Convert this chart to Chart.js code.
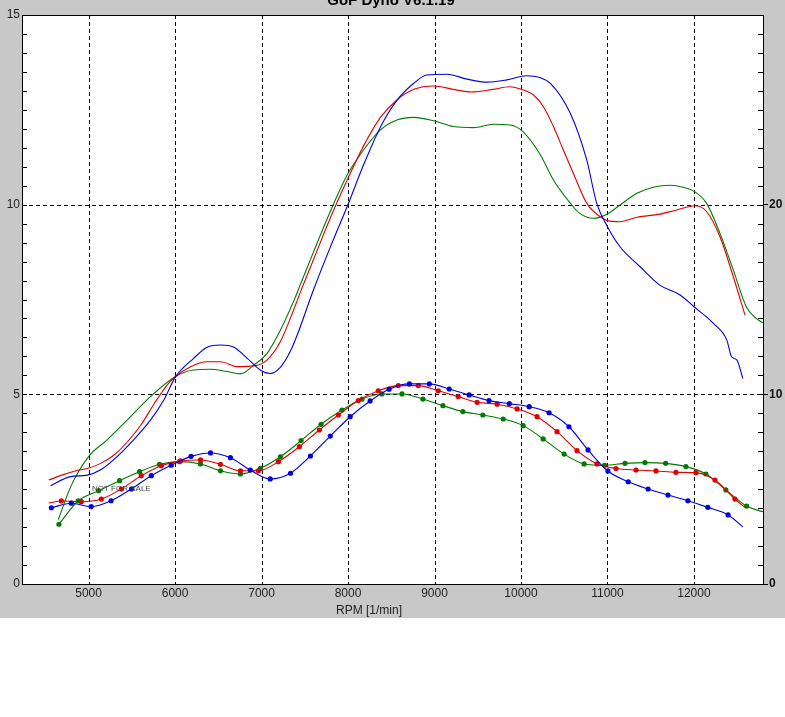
<!DOCTYPE html>
<html>
<head>
<meta charset="utf-8">
<script src="https://cdn.jsdelivr.net/npm/chart.js@4.4.1/dist/chart.umd.min.js"></script>
<style>
html, body { margin: 0; padding: 0; background: #fff; }
#wrap { width: 785px; height: 618px; background: #c8c8c8; }
</style>
</head>
<body>
<div id="wrap"><canvas id="dyno" width="785" height="618"></canvas></div>
<script>
// tick labels
var rpmTicks = [5000, 6000, 7000, 8000, 9000, 10000, 11000, 12000];
var leftTicks = [0, 5, 10, 15];
var rightTicks = [0, 10, 20];
var leftGrid = [5, 10];

// upper curves (left axis)
var blueUpRpm = [4560, 4790, 4985, 5140, 5330, 5520, 5715, 5870, 6005, 6215, 6370, 6525, 6680, 6835, 6985, 7100, 7220, 7330, 7410, 7600, 7795, 7990, 8180, 8375, 8565, 8760, 8910, 9145, 9375, 9605, 9835, 10065, 10220, 10340, 10570, 10760, 10875, 11000, 11145, 11375, 11605, 11840, 12000, 12225, 12380, 12435, 12495, 12565];
var blueUp = [2.59, 2.83, 2.87, 3.01, 3.36, 3.80, 4.32, 4.85, 5.46, 5.95, 6.24, 6.30, 6.24, 5.95, 5.64, 5.55, 5.72, 6.12, 6.55, 7.75, 8.88, 9.95, 11.05, 12.05, 12.75, 13.20, 13.42, 13.44, 13.31, 13.23, 13.29, 13.40, 13.35, 13.20, 12.41, 11.18, 10.04, 9.42, 8.89, 8.37, 7.88, 7.62, 7.31, 6.87, 6.43, 5.99, 5.91, 5.42];

var redUpRpm = [4540, 4690, 4845, 4995, 5140, 5295, 5450, 5605, 5760, 5910, 6005, 6180, 6370, 6525, 6720, 6910, 7065, 7220, 7375, 7450, 7600, 7795, 7990, 8180, 8375, 8565, 8760, 8990, 9220, 9430, 9680, 9870, 9990, 10145, 10260, 10375, 10490, 10605, 10760, 10915, 11000, 11145, 11340, 11605, 11800, 12010, 12145, 12300, 12455, 12590];
var redUp = [2.74, 2.87, 2.98, 3.05, 3.18, 3.40, 3.75, 4.19, 4.76, 5.25, 5.47, 5.73, 5.86, 5.86, 5.73, 5.75, 5.91, 6.40, 7.25, 7.70, 8.55, 9.65, 10.65, 11.55, 12.30, 12.76, 13.04, 13.13, 13.04, 12.97, 13.04, 13.11, 13.05, 12.89, 12.58, 12.06, 11.44, 10.83, 10.04, 9.68, 9.58, 9.55, 9.67, 9.75, 9.86, 9.97, 9.82, 9.16, 8.10, 7.09];

var greenUpRpm = [4650, 4800, 5000, 5215, 5445, 5715, 6005, 6215, 6410, 6600, 6755, 6910, 7065, 7220, 7370, 7450, 7600, 7795, 7990, 8180, 8375, 8565, 8760, 8990, 9220, 9450, 9680, 9875, 10025, 10220, 10375, 10570, 10680, 10835, 10995, 11145, 11340, 11530, 11720, 11875, 12010, 12145, 12300, 12455, 12605, 12720, 12810];
var greenUp = [1.70, 2.60, 3.36, 3.80, 4.32, 4.94, 5.47, 5.64, 5.66, 5.60, 5.54, 5.77, 6.08, 6.70, 7.45, 7.90, 8.75, 9.82, 10.78, 11.44, 11.97, 12.23, 12.30, 12.21, 12.06, 12.03, 12.12, 12.10, 11.92, 11.33, 10.65, 10.04, 9.77, 9.64, 9.75, 9.99, 10.30, 10.46, 10.51, 10.46, 10.34, 10.04, 9.25, 8.28, 7.31, 7.00, 6.87];

// lower curves with markers (right axis)
var blueLowRpm = [4570, 4800, 5030, 5260, 5495, 5725, 5955, 6185, 6410, 6640, 6870, 7100, 7335, 7565, 7795, 8025, 8255, 8475, 8710, 8940, 9170, 9400, 9630, 9865, 10095, 10325, 10555, 10775, 11005, 11240, 11470, 11700, 11930, 12160, 12395, 12565];
var blueLow = [4.02, 4.26, 4.08, 4.39, 5.01, 5.71, 6.26, 6.73, 6.91, 6.66, 6.01, 5.54, 5.84, 6.75, 7.80, 8.82, 9.65, 10.27, 10.55, 10.55, 10.28, 9.97, 9.67, 9.51, 9.35, 9.03, 8.29, 7.07, 5.96, 5.39, 5.01, 4.69, 4.39, 4.04, 3.64, 3.02];

var redLowRpm = [4538, 4685, 4916, 5147, 5378, 5609, 5840, 6063, 6294, 6525, 6756, 6964, 7195, 7437, 7668, 7888, 8119, 8350, 8581, 8812, 9043, 9274, 9493, 9724, 9955, 10186, 10417, 10648, 10879, 11099, 11330, 11561, 11792, 12023, 12243, 12474, 12589];
var redLow = [4.27, 4.38, 4.34, 4.48, 5.01, 5.71, 6.24, 6.49, 6.54, 6.31, 5.97, 5.97, 6.45, 7.24, 8.12, 8.91, 9.67, 10.19, 10.46, 10.46, 10.19, 9.88, 9.58, 9.48, 9.23, 8.82, 8.03, 7.03, 6.33, 6.09, 6.01, 5.96, 5.89, 5.87, 5.48, 4.48, 4.04];

var greenLowRpm = [4657, 4881, 5116, 5358, 5589, 5820, 6051, 6294, 6525, 6756, 6987, 7218, 7457, 7688, 7930, 8162, 8392, 8624, 8866, 9097, 9328, 9559, 9794, 10025, 10256, 10499, 10730, 10966, 11203, 11434, 11673, 11907, 12138, 12369, 12609, 12797];
var greenLow = [3.15, 4.39, 4.92, 5.45, 5.92, 6.31, 6.45, 6.33, 5.97, 5.80, 6.10, 6.71, 7.56, 8.42, 9.17, 9.75, 10.02, 10.02, 9.75, 9.40, 9.09, 8.91, 8.70, 8.35, 7.65, 6.85, 6.33, 6.26, 6.36, 6.40, 6.36, 6.19, 5.80, 4.96, 4.11, 3.81];

var BLUE = '#0000e0', RED = '#e00000', GREEN = '#007a00';

function pts(xs, ys) {
    return xs.map(function(x, i) { return {x: x, y: ys[i]}; });
}
// marker on every point except the loose ends
function marks(n, noFirst, noLast) {
    var r = [];
    for (var i = 0; i < n; i++) {
        r.push((noFirst && i === 0) || (noLast && i === n - 1) ? 0 : 2.6);
    }
    return r;
}
function upper(xs, ys, col) {
    return { data: pts(xs, ys), yAxisID: 'y', borderColor: col, borderWidth: 1.1,
             pointRadius: 0, cubicInterpolationMode: 'monotone' };
}
function lower(xs, ys, col, noFirst, noLast) {
    return { data: pts(xs, ys), yAxisID: 'y2', borderColor: col, backgroundColor: col,
             borderWidth: 1.1, pointRadius: marks(ys.length, noFirst, noLast), pointBorderWidth: 0,
             cubicInterpolationMode: 'monotone' };
}

var frame = {
    id: 'frame',
    beforeDraw: function(chart) {
        var ctx = chart.ctx, a = chart.chartArea;
        ctx.save();
        ctx.fillStyle = '#c8c8c8';
        ctx.fillRect(0, 0, chart.width, chart.height);
        ctx.fillStyle = '#fff';
        ctx.fillRect(a.left, a.top, a.right - a.left, a.bottom - a.top);
        ctx.restore();
    },
    beforeDatasetsDraw: function(chart) {
        // dashed grid
        var ctx = chart.ctx, a = chart.chartArea;
        var xs = chart.scales.x, yl = chart.scales.y;
        ctx.save();
        ctx.strokeStyle = '#000';
        ctx.lineWidth = 1;
        ctx.setLineDash([4, 3]);
        ctx.beginPath();
        rpmTicks.forEach(function(v) {
            var px = Math.round(xs.getPixelForValue(v)) + 0.5;
            ctx.moveTo(px, a.top); ctx.lineTo(px, a.bottom);
        });
        leftGrid.forEach(function(v) {
            var py = Math.round(yl.getPixelForValue(v)) + 0.5;
            ctx.moveTo(a.left, py); ctx.lineTo(a.right, py);
        });
        ctx.stroke();
        ctx.restore();
    },
    afterDraw: function(chart) {
        var ctx = chart.ctx, a = chart.chartArea;
        var yl = chart.scales.y, yr = chart.scales.y2;
        ctx.save();
        ctx.strokeStyle = '#000';
        ctx.lineWidth = 1;
        ctx.strokeRect(a.left + 0.5, a.top + 0.5, a.right - a.left - 1, a.bottom - a.top);
        ctx.beginPath();
        for (var v = 0.5; v < 15; v += 0.5) {
            var py = Math.round(yl.getPixelForValue(v)) + 0.5;
            ctx.moveTo(a.left, py); ctx.lineTo(a.left + 5, py);
        }
        for (var w = 1; w < 30; w++) {
            var qy = Math.round(yr.getPixelForValue(w)) + 0.5;
            ctx.moveTo(a.right - 6, qy); ctx.lineTo(a.right, qy);
        }
        ctx.stroke();

        ctx.fillStyle = '#000';
        ctx.textAlign = 'center';
        ctx.textBaseline = 'alphabetic';
        ctx.font = 'bold 15px "Liberation Sans", Arial, sans-serif';
        ctx.fillText('GoF Dyno V6.1.19', 391, 5);

        ctx.fillStyle = '#222';
        ctx.font = '12px "Liberation Sans", Arial, sans-serif';
        ctx.textBaseline = 'middle';
        ctx.fillText('RPM [1/min]', 369, 611);

        ctx.fillStyle = '#444';
        ctx.font = '8px "Liberation Sans", Arial, sans-serif';
        ctx.textAlign = 'left';
        ctx.fillText('NOT FOR SALE', 92, 489);
        ctx.restore();
    }
};

var tickFont = { family: '"Liberation Sans", Arial, sans-serif', size: 12 };
var noGrid = { display: true, drawOnChartArea: false, drawTicks: false, color: 'rgba(0,0,0,0)' };

new Chart(document.getElementById('dyno'), {
    type: 'line',
    data: {
        datasets: [
            upper(blueUpRpm, blueUp, BLUE),
            upper(redUpRpm, redUp, RED),
            upper(greenUpRpm, greenUp, GREEN),
            lower(blueLowRpm, blueLow, BLUE, false, true),
            lower(redLowRpm, redLow, RED, true, true),
            lower(greenLowRpm, greenLow, GREEN, false, true)
        ]
    },
    options: {
        responsive: false,
        animation: false,
        layout: { padding: { top: 15, left: 0, right: 0, bottom: 0 } },
        plugins: { legend: { display: false }, tooltip: { enabled: false } },
        scales: {
            x: {
                type: 'linear', min: 4230, max: 12810,
                afterBuildTicks: function(s) { s.ticks = rpmTicks.map(function(v) { return {value: v}; }); },
                afterFit: function(s) { s.height = 34; },
                ticks: { color: '#222', font: tickFont, padding: 2, maxRotation: 0,
                         callback: function(v) { return String(v); } },
                grid: noGrid,
                border: { display: false }
            },
            y: {
                position: 'left', min: 0, max: 15,
                afterBuildTicks: function(s) { s.ticks = leftTicks.map(function(v) { return {value: v}; }); },
                afterFit: function(s) { s.width = 22; },
                ticks: { color: '#222', font: tickFont, padding: 2 },
                grid: noGrid,
                border: { display: false }
            },
            y2: {
                position: 'right', min: 0, max: 30,
                afterBuildTicks: function(s) { s.ticks = rightTicks.map(function(v) { return {value: v}; }); },
                afterFit: function(s) { s.width = 21; },
                ticks: { color: '#111', font: { family: tickFont.family, size: 12, weight: 'bold' }, padding: 1 },
                grid: { drawOnChartArea: false, drawTicks: true, tickLength: 4, tickColor: '#000' },
                border: { display: false }
            }
        }
    },
    plugins: [frame]
});
</script>
</body>
</html>
